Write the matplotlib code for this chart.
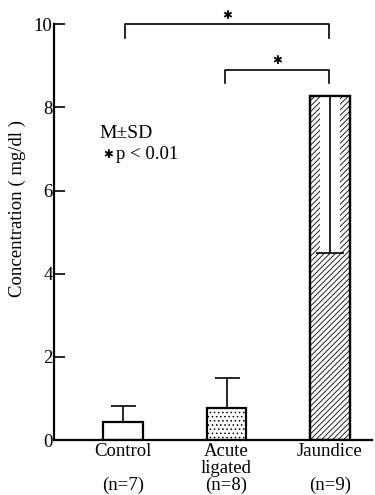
import numpy as np
import matplotlib
matplotlib.use('Agg')
import matplotlib.pyplot as plt

plt.rcParams['font.family'] = ['Liberation Serif', 'DejaVu Serif']
plt.rcParams['hatch.linewidth'] = 0.6

groups = ['Control', 'Acute\nligated', 'Jaundice']
n_labels = ['(n=7)', '(n=8)', '(n=9)']
means = [0.43, 0.78, 8.28]
sds = [0.40, 0.72, 3.78]
hatches = ['', '....', '//////']

x = np.arange(len(groups))
width = 0.38

fig = plt.figure(figsize=(3.75, 4.95), dpi=100)
ax = fig.add_axes([0.144, 0.111, 0.848, 0.840])

bars = ax.bar(x, means, width, color='white', edgecolor='black',
              linewidth=1.6, hatch=hatches, zorder=2)

# error bars: up for the first two, down inside the jaundice bar
ax.errorbar(x[:2], means[:2], yerr=[[0, 0], sds[:2]], fmt='none',
            ecolor='black', elinewidth=1.2, capsize=9, capthick=1.2, zorder=3)
# clear the hatching round the downward SD line
ax.bar(x[2], sds[2], 0.2, bottom=means[2] - sds[2], color='white',
       edgecolor='none', zorder=2.5)
ax.bar(x[2], means[2], width, color='none', edgecolor='black',
       linewidth=1.6, zorder=2.6)
ax.errorbar(x[2:], means[2:], yerr=[sds[2:], [0]], fmt='none',
            ecolor='black', elinewidth=1.2, capsize=10, capthick=1.2, zorder=3)

# significance brackets
def bracket(x1, x2, y, drop):
    ax.plot([x1, x1, x2, x2], [y - drop, y, y, y - drop], color='black',
            lw=1.2, clip_on=False, zorder=3)
    ax.text((x1 + x2) / 2, y + 0.22, '✱', family='DejaVu Sans', fontsize=8.5,
            ha='center', va='center', clip_on=False)

bracket(0.02, 1.99, 10.0, 0.32)
bracket(0.99, 1.99, 8.9, 0.32)

ax.text(-0.23, 7.37, 'M±SD', fontsize=14, ha='left', va='center')
ax.text(-0.19, 6.87, '✱', family='DejaVu Sans', fontsize=8.5, ha='left', va='center')
ax.text(-0.07, 6.87, 'p < 0.01', fontsize=13.5, ha='left', va='center')

ax.set_xlim(-0.667, 2.406)
ax.set_ylim(0, 10)
ax.set_yticks([0, 2, 4, 6, 8, 10])
ax.tick_params(axis='y', direction='in', length=8, width=1.2, labelsize=13.5, pad=1)
ax.set_xticks(x)
labels = []
for g, n in zip(groups, n_labels):
    if '\n' in g:
        labels.append(g + '\n' + n)
    else:
        labels.append(g + '\n\n' + n)
ax.set_xticklabels(labels, fontsize=13.5, linespacing=1.0, va='top')
ax.tick_params(axis='x', length=0, pad=2)

for s in ['top', 'right']:
    ax.spines[s].set_visible(False)
for s in ['left', 'bottom']:
    ax.spines[s].set_linewidth(1.6)

ax.set_ylabel('Concentration ( mg/dl )', fontsize=13.5)
ax.yaxis.set_label_coords(-0.088, 0.558)

fig.savefig('out.png', dpi=100)
